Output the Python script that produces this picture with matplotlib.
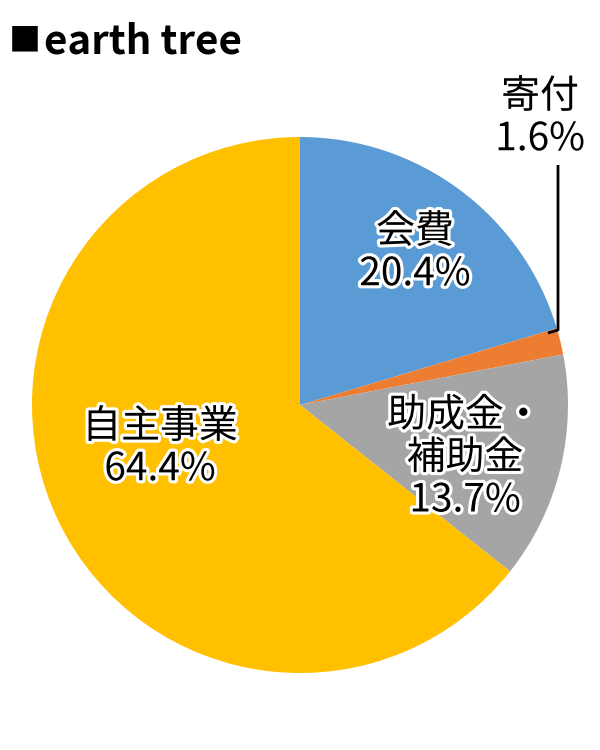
import matplotlib.pyplot as plt
import matplotlib.patheffects as pe

plt.rcParams['font.family'] = ['Noto Sans CJK JP', 'DejaVu Sans']

# data (clockwise from 12 o'clock)
categories = ['会費', '寄付', '助成金・\n補助金', '自主事業']
shares = [20.4, 1.6, 13.7, 64.4]
colors = ['#5B9BD5', '#ED7D31', '#A5A5A5', '#FFC000']

W, H = 600, 750
fig = plt.figure(figsize=(W / 100, H / 100), dpi=100)
ax = fig.add_axes([0, 0, 1, 1])

cx, cy, r = 300, H - 405, 268
ax.pie(shares, colors=colors, startangle=90, counterclock=False,
       center=(cx, cy), radius=r, frame=True,
       wedgeprops=dict(linewidth=0))
ax.set_xlim(0, W)
ax.set_ylim(0, H)
ax.set_aspect('equal')
ax.axis('off')

outline = [pe.withStroke(linewidth=4.5, foreground='white')]
# label anchor positions in pixel coords (x, y from top)
label_pos = [(415, 253), (540, 118), (465, 458), (160, 448)]
for cat, val, (x, y) in zip(categories, shares, label_pos):
    ax.text(x, H - y, f'{cat}\n{val:.1f}%', ha='center', va='center',
            fontsize=28, linespacing=1.08, color='black',
            path_effects=outline)

# leader line for the small slice
ax.plot([548, 558, 558], [H - 333, H - 330, H - 165], color='black', lw=2,
        solid_capstyle='butt')

# title: small square marker + bold text
fig.text(9 / W, 1 - 41 / H, '■', fontsize=23, ha='left', va='center')
fig.text(44 / W, 1 - 42 / H, 'earth tree', fontsize=29, fontweight='bold',
         ha='left', va='center')

fig.savefig('out.png', dpi=100)
